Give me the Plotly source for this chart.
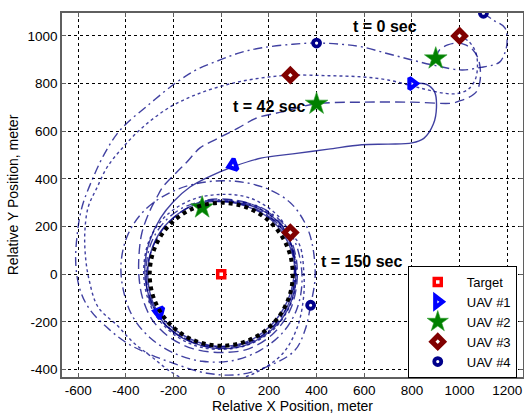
import plotly.graph_objects as go

# ---------------- data ----------------
target_x = [0]
target_y = [0]
orbit_radius = 300

# trajectory waypoints (meters)
uav1_x = [800, 860, 895, 903, 890, 850, 800, 700, 590, 450, 300, 171, 57, -50, -131, -200, -255, -300,
          -320, -312, -272, -205, -105, 0, 110, 210, 275, 310, 305, 265, 195, 100, 0, -110, -200, -265,
          -303, -303, -265, -200, -105, 0, 108, 205, 275, 305, 300, 262, 190, 90, -20]
uav1_y = [800, 797, 765, 700, 630, 570, 551, 546, 543, 525, 505, 488, 454, 410, 366, 305, 235, 140,
          40, -60, -160, -240, -292, -312, -295, -235, -155, -50, 60, 162, 240, 287, 306, 292, 238, 163,
          60, -60, -160, -228, -282, -303, -283, -218, -118, -10, 100, 193, 258, 297, 305]

uav2_x = [900, 915, 950, 990, 1025, 1057, 1078, 1087, 1085, 1070, 1035, 1000, 970, 800, 590, 400, 250,
          150, 70, -18, -89, -144, -186, -245, -270, -300, -333, -345, -345, -330, -290, -220, -120, 0,
          118, 222, 290, 318, 312, 275, 205, 108, 0, -80, -168, -245, -296, -314, -298, -248, -168, -70,
          40, 148, 236, 292, 312, 298, 248, 168, 70, -40]
uav2_y = [905, 940, 962, 970, 962, 940, 905, 857, 807, 765, 740, 727, 718, 722, 722, 715, 680,
          656, 613, 568, 530, 471, 429, 366, 323, 265, 173, 80, -10, -100, -190, -262, -312, -328,
          -312, -245, -148, -30, 80, 178, 255, 300, 316, 306, 262, 188, 90, -20, -118, -198, -262, -302,
          -306, -272, -198, -100, 10, 110, 198, 262, 298, 307]

uav3_x = [1000, 1040, 1068, 1075, 1065, 1035, 990, 930, 860, 800, 700, 590, 450, 290, 171, 50, -89,
          -214, -328, -411, -478, -520, -558, -572, -570, -555, -517, -437, -370, -290, -202, -100, 30,
          150, 260, 320, 345, 347, 330, 290, 228, 120, 0, -125, -232, -300, -325, -312, -265, -188, -90,
          20, 128, 225, 290, 314, 305, 262, 188, 90, -20]
uav3_y = [1000, 975, 930, 870, 815, 775, 758, 760, 775, 790, 815, 828, 833, 835, 824, 802, 760,
          702, 618, 534, 450, 366, 282, 180, 80, -20, -137, -214, -285, -348, -415, -460, -450,
          -410, -330, -220, -100, 0, 120, 175, 255, 320, 335, 312, 245, 148, 30, -88, -186, -260, -305,
          -314, -290, -226, -128, -20, 90, 188, 260, 300, 308]

uav4_x = [1100, 1140, 1190, 1199, 1190, 1169, 1140, 1090, 1010, 900, 800, 700, 590, 500, 400, 300, 171,
          80, -5, -100, -185, -300, -424, -490, -542, -584, -605, -610, -592, -550, -467, -395, -311,
          -202, -60, 80, 226, 310, 352, 375, 394, 381, 352, 290, 190, 60, -80, -210, -320, -390, -420,
          -410, -370, -300, -200, -80, 50, 165, 255, 315, 338, 332, 302, 245, 162, 58, -50, -155, -240,
          -295, -315, -302, -255, -178, -80, 30, 138, 226, 285, 308, 298, 250, 170]
uav4_y = [1095, 1067, 1034, 971, 929, 891, 878, 868, 857, 875, 899, 925, 954, 965, 970, 965, 950,
          930, 899, 860, 807, 715, 605, 505, 395, 282, 160, 40, -66, -150, -234, -289, -331,
          -373, -415, -420, -373, -318, -233, -130, -11, 130, 214, 300, 360, 390, 385, 345, 270, 170, 50,
          -70, -180, -265, -330, -365, -362, -318, -248, -152, -48, 58, 152, 228, 282, 308, 310, 282, 218,
          128, 20, -88, -186, -255, -295, -302, -276, -212, -118, -10, 100, 198, 265]

# marker positions at t = 0, 42, 150 sec
uav1_mx = [800, 50, -260]
uav1_my = [800, 458, -160]
uav1_heading = [0, 160, 195]
uav2_mx = [900, 400, -80]
uav2_my = [905, 715, 280]
uav3_mx = [1000, 290, 290]
uav3_my = [1000, 835, 175]
uav4_mx = [1100, 400, 375]
uav4_my = [1095, 970, -130]

labels = ["t = 0 sec", "t = 42 sec", "t = 150 sec"]
label_x = [545, 40, 412]
label_y = [1038, 703, 53]

x_ticks = [-600, -400, -200, 0, 200, 400, 600, 800, 1000, 1200]
y_ticks = [-400, -200, 0, 200, 400, 600, 800, 1000]

# ---------------- figure ----------------
FONT = "Liberation Sans, Arial, sans-serif"
LINE_COLOR = "rgba(0,0,130,0.75)"

fig = go.Figure()

paths = [
    (uav1_x, uav1_y, "solid"),
    (uav2_x, uav2_y, "10px,5px"),
    (uav3_x, uav3_y, "3px,3px"),
    (uav4_x, uav4_y, "9px,4px,2px,4px"),
]
for px_, py_, dash in paths:
    fig.add_trace(go.Scatter(x=px_, y=py_, mode="lines", showlegend=False, hoverinfo="skip",
                             line=dict(color=LINE_COLOR, width=1.4, dash=dash, shape="spline", smoothing=1.0)))

fig.add_trace(go.Scatter(x=target_x, y=target_y, mode="markers", name="Target",
                         marker=dict(symbol="square", size=7, color="white",
                                     line=dict(color="red", width=3.5))))
fig.add_trace(go.Scatter(x=uav1_mx, y=uav1_my, mode="markers", name="UAV #1",
                         marker=dict(symbol="triangle-right", size=10, color="white", angle=uav1_heading,
                                     line=dict(color="blue", width=4.2))))
fig.add_trace(go.Scatter(x=uav2_mx, y=uav2_my, mode="markers", name="UAV #2",
                         marker=dict(symbol="star", size=17, color="#008000",
                                     line=dict(color="#30a030", width=0.6))))
fig.add_trace(go.Scatter(x=uav3_mx, y=uav3_my, mode="markers", name="UAV #3",
                         marker=dict(symbol="diamond", size=9, color="white",
                                     line=dict(color="#800000", width=5))))
fig.add_trace(go.Scatter(x=uav4_mx, y=uav4_my, mode="markers", name="UAV #4",
                         marker=dict(symbol="circle", size=7, color="white",
                                     line=dict(color="#00008b", width=3.8))))

# reference orbit (black dotted circle) drawn above the traces
fig.add_shape(type="circle", xref="x", yref="y",
              x0=target_x[0] - orbit_radius, x1=target_x[0] + orbit_radius,
              y0=target_y[0] - orbit_radius, y1=target_y[0] + orbit_radius,
              line=dict(color="black", width=4, dash="dot"), layer="above")

for t, xx, yy in zip(labels, label_x, label_y):
    fig.add_annotation(x=xx, y=yy, text="<b>" + t + "</b>", showarrow=False, xanchor="left",
                       yanchor="middle", font=dict(family=FONT, size=16, color="black"))

axis_common = dict(showgrid=True, gridcolor="black", gridwidth=1, griddash="3px,3px",
                   zeroline=False, showline=True, linecolor="#5f5f5f", linewidth=1.5, mirror="ticks",
                   ticks="inside", ticklen=4, tickcolor="#5f5f5f",
                   tickfont=dict(family=FONT, size=13.5, color="black"))

fig.update_xaxes(range=[-668, 1266], tickvals=x_ticks, ticktext=[str(v) for v in x_ticks],
                 title=dict(text="Relative X Position, meter", font=dict(family=FONT, size=14, color="black"),
                            standoff=4),
                 automargin=False, **axis_common)
fig.update_yaxes(range=[-431, 1096], tickvals=y_ticks, ticktext=[str(v) for v in y_ticks],
                 title=dict(text="Relative Y Position, meter", font=dict(family=FONT, size=14, color="black"),
                            standoff=6),
                 automargin=False, **axis_common)

fig.update_layout(
    width=524, height=419,
    margin=dict(l=62, r=1, t=13, b=42),
    paper_bgcolor="white", plot_bgcolor="white",
    font=dict(family=FONT, color="black"),
    legend=dict(x=0.75, y=0.305, xanchor="left", yanchor="top", bgcolor="white",
                bordercolor="black", borderwidth=1, font=dict(family=FONT, size=13),
                itemwidth=48, tracegroupgap=0),
)

fig.write_html("out.html", post_script="document.body.style.margin='0';",
               config={"displayModeBar": False})
